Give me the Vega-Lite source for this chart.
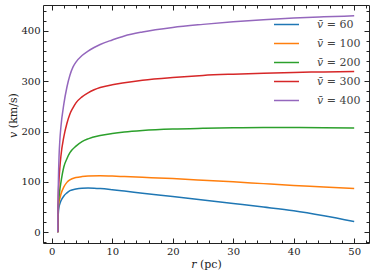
{
  "$schema": "https://vega.github.io/schema/vega-lite/v6.json",
  "width": 326,
  "height": 238,
  "autosize": "none",
  "padding": {"left": 43, "top": 5, "right": 5, "bottom": 37},
  "config": {
    "view": {"stroke": null},
    "font": "DejaVu Serif",
    "axis": {
      "grid": false,
      "domainColor": "#222",
      "domainWidth": 1,
      "tickColor": "#222",
      "tickWidth": 1,
      "labelFont": "DejaVu Serif",
      "labelFontSize": 10,
      "labelColor": "#222",
      "titleFont": "DejaVu Serif",
      "titleFontSize": 11,
      "titleFontWeight": "normal",
      "titleColor": "#222"
    },
    "legend": {"labelFont": "DejaVu Serif"}
  },
  "data": {
    "values": [
      {"s": "𝑣̄ = 60", "r": 1, "v": 0}, {"s": "𝑣̄ = 60", "r": 1.02, "v": 20}, {"s": "𝑣̄ = 60", "r": 1.05, "v": 30}, {"s": "𝑣̄ = 60", "r": 1.1, "v": 40}, {"s": "𝑣̄ = 60", "r": 1.2, "v": 50}, {"s": "𝑣̄ = 60", "r": 1.35, "v": 57}, {"s": "𝑣̄ = 60", "r": 1.5, "v": 62}, {"s": "𝑣̄ = 60", "r": 2, "v": 72}, {"s": "𝑣̄ = 60", "r": 2.5, "v": 78}, {"s": "𝑣̄ = 60", "r": 3, "v": 82.5}, {"s": "𝑣̄ = 60", "r": 4, "v": 86}, {"s": "𝑣̄ = 60", "r": 5, "v": 87.5}, {"s": "𝑣̄ = 60", "r": 6, "v": 87.8}, {"s": "𝑣̄ = 60", "r": 7, "v": 87.5}, {"s": "𝑣̄ = 60", "r": 8, "v": 86.8}, {"s": "𝑣̄ = 60", "r": 10, "v": 84.5}, {"s": "𝑣̄ = 60", "r": 12, "v": 81.8}, {"s": "𝑣̄ = 60", "r": 15, "v": 77.5}, {"s": "𝑣̄ = 60", "r": 20, "v": 71}, {"s": "𝑣̄ = 60", "r": 25, "v": 64}, {"s": "𝑣̄ = 60", "r": 30, "v": 57}, {"s": "𝑣̄ = 60", "r": 35, "v": 50}, {"s": "𝑣̄ = 60", "r": 40, "v": 42.5}, {"s": "𝑣̄ = 60", "r": 45, "v": 32.5}, {"s": "𝑣̄ = 60", "r": 50, "v": 21},
      {"s": "𝑣̄ = 100", "r": 1, "v": 0}, {"s": "𝑣̄ = 100", "r": 1.02, "v": 25}, {"s": "𝑣̄ = 100", "r": 1.05, "v": 38}, {"s": "𝑣̄ = 100", "r": 1.1, "v": 50}, {"s": "𝑣̄ = 100", "r": 1.2, "v": 60}, {"s": "𝑣̄ = 100", "r": 1.35, "v": 68}, {"s": "𝑣̄ = 100", "r": 1.5, "v": 75}, {"s": "𝑣̄ = 100", "r": 2, "v": 90}, {"s": "𝑣̄ = 100", "r": 2.5, "v": 99}, {"s": "𝑣̄ = 100", "r": 3, "v": 104}, {"s": "𝑣̄ = 100", "r": 4, "v": 108.5}, {"s": "𝑣̄ = 100", "r": 5, "v": 110.5}, {"s": "𝑣̄ = 100", "r": 6, "v": 111.5}, {"s": "𝑣̄ = 100", "r": 8, "v": 112}, {"s": "𝑣̄ = 100", "r": 10, "v": 111.5}, {"s": "𝑣̄ = 100", "r": 12, "v": 110.5}, {"s": "𝑣̄ = 100", "r": 15, "v": 109}, {"s": "𝑣̄ = 100", "r": 20, "v": 106.5}, {"s": "𝑣̄ = 100", "r": 25, "v": 103.3}, {"s": "𝑣̄ = 100", "r": 30, "v": 100}, {"s": "𝑣̄ = 100", "r": 35, "v": 96.5}, {"s": "𝑣̄ = 100", "r": 40, "v": 93}, {"s": "𝑣̄ = 100", "r": 45, "v": 90}, {"s": "𝑣̄ = 100", "r": 50, "v": 86.7},
      {"s": "𝑣̄ = 200", "r": 1, "v": 0}, {"s": "𝑣̄ = 200", "r": 1.02, "v": 30}, {"s": "𝑣̄ = 200", "r": 1.05, "v": 45}, {"s": "𝑣̄ = 200", "r": 1.1, "v": 58}, {"s": "𝑣̄ = 200", "r": 1.2, "v": 70}, {"s": "𝑣̄ = 200", "r": 1.35, "v": 86}, {"s": "𝑣̄ = 200", "r": 1.5, "v": 98}, {"s": "𝑣̄ = 200", "r": 2, "v": 130}, {"s": "𝑣̄ = 200", "r": 2.5, "v": 146}, {"s": "𝑣̄ = 200", "r": 3, "v": 158}, {"s": "𝑣̄ = 200", "r": 4, "v": 171}, {"s": "𝑣̄ = 200", "r": 5, "v": 180}, {"s": "𝑣̄ = 200", "r": 6, "v": 185.5}, {"s": "𝑣̄ = 200", "r": 8, "v": 192}, {"s": "𝑣̄ = 200", "r": 10, "v": 196}, {"s": "𝑣̄ = 200", "r": 12, "v": 199}, {"s": "𝑣̄ = 200", "r": 15, "v": 202}, {"s": "𝑣̄ = 200", "r": 20, "v": 205}, {"s": "𝑣̄ = 200", "r": 25, "v": 206.5}, {"s": "𝑣̄ = 200", "r": 30, "v": 207.5}, {"s": "𝑣̄ = 200", "r": 35, "v": 208}, {"s": "𝑣̄ = 200", "r": 40, "v": 208}, {"s": "𝑣̄ = 200", "r": 45, "v": 207.5}, {"s": "𝑣̄ = 200", "r": 50, "v": 207},
      {"s": "𝑣̄ = 300", "r": 1, "v": 0}, {"s": "𝑣̄ = 300", "r": 1.02, "v": 35}, {"s": "𝑣̄ = 300", "r": 1.05, "v": 55}, {"s": "𝑣̄ = 300", "r": 1.1, "v": 78}, {"s": "𝑣̄ = 300", "r": 1.2, "v": 105}, {"s": "𝑣̄ = 300", "r": 1.35, "v": 130}, {"s": "𝑣̄ = 300", "r": 1.5, "v": 150}, {"s": "𝑣̄ = 300", "r": 2, "v": 190}, {"s": "𝑣̄ = 300", "r": 2.5, "v": 216}, {"s": "𝑣̄ = 300", "r": 3, "v": 235}, {"s": "𝑣̄ = 300", "r": 3.5, "v": 247}, {"s": "𝑣̄ = 300", "r": 4, "v": 257}, {"s": "𝑣̄ = 300", "r": 5, "v": 269}, {"s": "𝑣̄ = 300", "r": 6, "v": 277}, {"s": "𝑣̄ = 300", "r": 7, "v": 283}, {"s": "𝑣̄ = 300", "r": 8, "v": 287.5}, {"s": "𝑣̄ = 300", "r": 10, "v": 293}, {"s": "𝑣̄ = 300", "r": 12, "v": 297}, {"s": "𝑣̄ = 300", "r": 15, "v": 302}, {"s": "𝑣̄ = 300", "r": 20, "v": 307.5}, {"s": "𝑣̄ = 300", "r": 25, "v": 311.5}, {"s": "𝑣̄ = 300", "r": 30, "v": 314}, {"s": "𝑣̄ = 300", "r": 35, "v": 316}, {"s": "𝑣̄ = 300", "r": 40, "v": 317.5}, {"s": "𝑣̄ = 300", "r": 45, "v": 318.5}, {"s": "𝑣̄ = 300", "r": 50, "v": 319.5},
      {"s": "𝑣̄ = 400", "r": 1, "v": 0}, {"s": "𝑣̄ = 400", "r": 1.02, "v": 40}, {"s": "𝑣̄ = 400", "r": 1.05, "v": 70}, {"s": "𝑣̄ = 400", "r": 1.1, "v": 105}, {"s": "𝑣̄ = 400", "r": 1.2, "v": 150}, {"s": "𝑣̄ = 400", "r": 1.35, "v": 185}, {"s": "𝑣̄ = 400", "r": 1.5, "v": 208}, {"s": "𝑣̄ = 400", "r": 2, "v": 255}, {"s": "𝑣̄ = 400", "r": 2.5, "v": 288}, {"s": "𝑣̄ = 400", "r": 3, "v": 312}, {"s": "𝑣̄ = 400", "r": 3.5, "v": 328}, {"s": "𝑣̄ = 400", "r": 4, "v": 338}, {"s": "𝑣̄ = 400", "r": 5, "v": 351}, {"s": "𝑣̄ = 400", "r": 6, "v": 360}, {"s": "𝑣̄ = 400", "r": 7, "v": 367}, {"s": "𝑣̄ = 400", "r": 8, "v": 373}, {"s": "𝑣̄ = 400", "r": 10, "v": 382}, {"s": "𝑣̄ = 400", "r": 12, "v": 390}, {"s": "𝑣̄ = 400", "r": 15, "v": 398}, {"s": "𝑣̄ = 400", "r": 20, "v": 407}, {"s": "𝑣̄ = 400", "r": 25, "v": 413}, {"s": "𝑣̄ = 400", "r": 30, "v": 418}, {"s": "𝑣̄ = 400", "r": 35, "v": 422}, {"s": "𝑣̄ = 400", "r": 40, "v": 425.5}, {"s": "𝑣̄ = 400", "r": 45, "v": 428}, {"s": "𝑣̄ = 400", "r": 50, "v": 430}
    ]
  },
  "layer": [
    {
      "mark": {"type": "line", "interpolate": "monotone", "strokeWidth": 1.5},
      "encoding": {
        "x": {"field": "r", "type": "quantitative", "scale": {"domain": [-1.45, 52.45], "nice": false, "zero": false},
              "axis": {"orient": "bottom", "values": [0, 10, 20, 30, 40, 50], "tickSize": -5, "labelPadding": 8, "title": "𝑟 (pc)", "titlePadding": 2}},
        "y": {"field": "v", "type": "quantitative", "scale": {"domain": [-21.5, 451.5], "nice": false, "zero": false},
              "axis": {"orient": "left", "values": [0, 100, 200, 300, 400], "tickSize": -5, "labelPadding": 8, "title": "𝑣 (km/s)", "titlePadding": 2, "titleY": 110}},
        "color": {"field": "s", "type": "nominal",
                  "scale": {"domain": ["𝑣̄ = 60", "𝑣̄ = 100", "𝑣̄ = 200", "𝑣̄ = 300", "𝑣̄ = 400"], "range": ["#1f77b4", "#ff7f0e", "#2ca02c", "#d62728", "#9467bd"]},
                  "legend": {"orient": "none", "legendX": 230, "legendY": 6, "title": null, "symbolType": "stroke", "symbolSize": 625, "symbolStrokeWidth": 1.5, "labelFontSize": 11, "labelColor": "#444", "rowPadding": 0, "labelOffset": 17, "padding": 0}}
      }
    },
    {
      "mark": {"type": "point", "opacity": 0},
      "encoding": {
        "x": {"field": "r", "type": "quantitative", "axis": {"orient": "top", "values": [0, 10, 20, 30, 40, 50], "tickSize": -5, "labels": false, "title": null}},
        "y": {"field": "v", "type": "quantitative", "axis": {"orient": "right", "values": [0, 100, 200, 300, 400], "tickSize": -5, "labels": false, "title": null}}
      }
    },
    {
      "mark": {"type": "point", "opacity": 0},
      "encoding": {
        "x": {"field": "r", "type": "quantitative", "axis": {"orient": "bottom", "values": [2, 4, 6, 8, 12, 14, 16, 18, 22, 24, 26, 28, 32, 34, 36, 38, 42, 44, 46, 48, 52], "tickSize": -3, "labels": false, "domain": false, "title": null}},
        "y": {"field": "v", "type": "quantitative", "axis": {"orient": "left", "values": [-20, 20, 40, 60, 80, 120, 140, 160, 180, 220, 240, 260, 280, 320, 340, 360, 380, 420, 440], "tickSize": -3, "labels": false, "domain": false, "title": null}}
      }
    },
    {
      "mark": {"type": "point", "opacity": 0},
      "encoding": {
        "x": {"field": "r", "type": "quantitative", "axis": {"orient": "top", "values": [2, 4, 6, 8, 12, 14, 16, 18, 22, 24, 26, 28, 32, 34, 36, 38, 42, 44, 46, 48, 52], "tickSize": -3, "labels": false, "domain": false, "title": null}},
        "y": {"field": "v", "type": "quantitative", "axis": {"orient": "right", "values": [-20, 20, 40, 60, 80, 120, 140, 160, 180, 220, 240, 260, 280, 320, 340, 360, 380, 420, 440], "tickSize": -3, "labels": false, "domain": false, "title": null}}
      }
    }
  ],
  "resolve": {"axis": {"x": "independent", "y": "independent"}}
}
